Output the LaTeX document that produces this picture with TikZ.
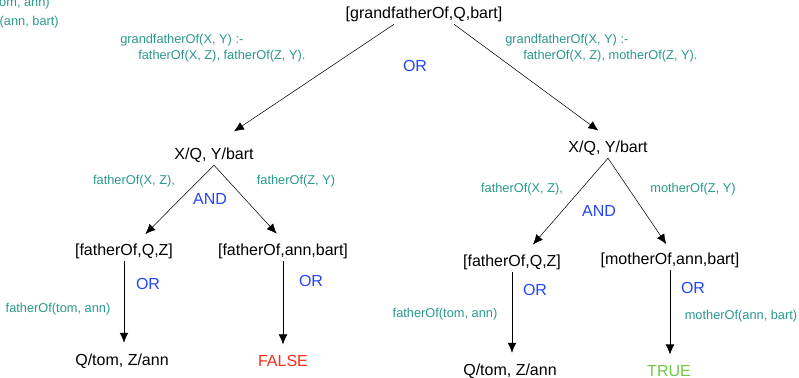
\documentclass[tikz,border=0pt]{standalone}
\usepackage{fontspec}
\setmainfont{Liberation Sans}
\usepackage{xcolor}
\usetikzlibrary{arrows.meta}
\definecolor{ruleteal}{RGB}{42,152,140}
\definecolor{opblue}{RGB}{35,70,250}
\definecolor{falsered}{RGB}{250,45,25}
\definecolor{truegreen}{RGB}{110,200,70}

\begin{document}
\begin{tikzpicture}[x=0.75pt, y=-0.75pt, >={Latex[length=7.5pt,width=6.5pt]}]
    % Define styles
    \tikzstyle{goal} = [font=\fontsize{12}{14}\selectfont, inner sep=2pt]
    \tikzstyle{rule} = [font=\fontsize{9.6}{12}\selectfont, text=ruleteal, align=left, inner sep=0pt]
    \tikzstyle{op} = [font=\fontsize{12}{14}\selectfont, text=opblue, inner sep=0pt]

    \useasboundingbox (0,0) rectangle (799,378);
    \clip (0,0) rectangle (799,378);

    % Labels cut off at the edge
    \node[rule, anchor=east] (cuttom) at (50,3) {fatherOf(tom, ann)};
    \node[rule, anchor=east] (cutann) at (59,22) {motherOf(ann, bart)};

    % Root goal
    \node[goal] (root) at (424,14) {[grandfatherOf,Q,bart]};
    \node[op] (rootor) at (415,66) {OR};
    \node[rule, anchor=base west] (ruleone) at (120,60) {grandfatherOf(X, Y) :-\\\hspace*{13.5pt}fatherOf(X, Z), fatherOf(Z, Y).};
    \node[rule, anchor=base west] (ruletwo) at (505,60) {grandfatherOf(X, Y) :-\\\hspace*{13.5pt}fatherOf(X, Z), motherOf(Z, Y).};

    % Left branch
    \node[goal] (lsub) at (214,155) {X/Q, Y/bart};
    \node[rule] (lfxz) at (134,181) {fatherOf(X, Z),};
    \node[rule] (lfzy) at (296,181) {fatherOf(Z, Y)};
    \node[op] (land) at (210,199) {AND};
    \node[goal] (lfq) at (124,251) {[fatherOf,Q,Z]};
    \node[goal] (lfab) at (283,251) {[fatherOf,ann,bart]};
    \node[op] (lfqor) at (148,284) {OR};
    \node[op] (lfabor) at (311,281) {OR};
    \node[rule] (lfact) at (58,309) {fatherOf(tom, ann)};
    \node[goal] (lres) at (122,361) {Q/tom, Z/ann};
    \node[goal, text=falsered] (lfalse) at (283,361) {FALSE};

    % Right branch
    \node[goal] (rsub) at (608,148) {X/Q, Y/bart};
    \node[rule] (rfxz) at (522,189) {fatherOf(X, Z),};
    \node[rule] (rmzy) at (693,189) {motherOf(Z, Y)};
    \node[op] (rand) at (599,211) {AND};
    \node[goal] (rfq) at (512,262) {[fatherOf,Q,Z]};
    \node[goal] (rmab) at (670,260) {[motherOf,ann,bart]};
    \node[op] (rfqor) at (535,290) {OR};
    \node[op] (rmabor) at (693,288) {OR};
    \node[rule] (rfact) at (445,314) {fatherOf(tom, ann)};
    \node[rule] (rmact) at (741,316) {motherOf(ann, bart)};
    \node[goal] (rres) at (510,371) {Q/tom, Z/ann};
    \node[goal, text=truegreen] (rtrue) at (669,371) {TRUE};

    % Arrows
    \draw[->, shorten >=18pt] (root.199) -- (lsub.north);
    \draw[->, shorten >=9pt] (root.341) -- (rsub.north);
    \draw[->, shorten >=7pt] (lsub.south) -- (lfq.35);
    \draw[->, shorten >=7pt] (lsub.south) -- (lfab.north);
    \draw[->, shorten >=7pt] (rsub.south) -- (rfq.35);
    \draw[->, shorten >=5pt] (rsub.south) -- (rmab.north);
    \draw[->, shorten >=6pt] (lfq.south) -- (lfq.south |- lres.north);
    \draw[->, shorten >=6pt] (lfab.south) -- (lfab.south |- lfalse.north);
    \draw[->, shorten >=6pt] (rfq.south) -- (rfq.south |- rres.north);
    \draw[->, shorten >=6pt] (rmab.south) -- (rmab.south |- rtrue.north);
\end{tikzpicture}
\end{document}
